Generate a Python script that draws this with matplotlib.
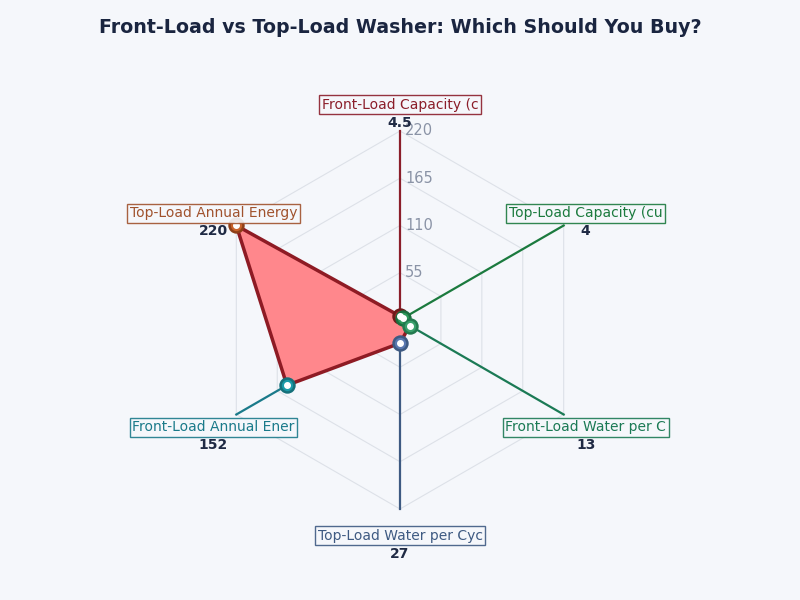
import numpy as np
import matplotlib
matplotlib.use("Agg")
import matplotlib.pyplot as plt

# data
categories = ["Front-Load Capacity (c", "Top-Load Capacity (cu", "Front-Load Water per C",
              "Top-Load Water per Cyc", "Front-Load Annual Ener", "Top-Load Annual Energy"]
values = [4.5, 4, 13, 27, 152, 220]
value_labels = ["4.5", "4", "13", "27", "152", "220"]
ring_levels = [55, 110, 165, 220]
r_max = 220

axis_colors = ["#8b1e2a", "#1b7a3e", "#1b7a55", "#3e5a82", "#1a7a8a", "#a0522d"]
marker_colors = ["#9b2a2a", "#2e9a5c", "#3aa06c", "#5a78b0", "#1a9aa8", "#c8622a"]
edge_colors = ["#6e1a1a", "#1d6e40", "#237a4f", "#3e5a82", "#15707a", "#8e3f18"]

bg = "#f5f7fb"
fig = plt.figure(figsize=(8, 6), dpi=100, facecolor=bg)
ax = fig.add_axes([0.26375, 0.15167, 0.4725, 0.63], projection="polar")
ax.set_facecolor(bg)
ax.set_theta_offset(np.pi / 2)
ax.set_theta_direction(-1)
ax.set_ylim(0, r_max)
ax.grid(False)
ax.spines["polar"].set_visible(False)
ax.set_xticks([])
ax.set_yticks([])

n = len(categories)
theta = np.arange(n) * 2 * np.pi / n
theta_closed = np.append(theta, theta[0])

# hexagonal grid
for lv in ring_levels:
    ax.plot(theta_closed, [lv] * (n + 1), color="#dde1e8", lw=0.8, zorder=1, clip_on=False)
    ax.annotate(str(lv), (0, lv), xytext=(5, 0), textcoords="offset pixels",
                ha="left", va="center", color="#8a93a6", fontsize=10.5, zorder=2)

# colored axis spokes
for t, c in zip(theta, axis_colors):
    ax.plot([t, t], [0, r_max], color=c, lw=1.6, zorder=2, clip_on=False)

vals_closed = values + [values[0]]
ax.fill(theta_closed, vals_closed, color="#ff878c", zorder=3, clip_on=False)
ax.plot(theta_closed, vals_closed, color="#8e1b24", lw=2.5, zorder=4, clip_on=False)

for t, v, mc, ec in zip(theta, values, marker_colors, edge_colors):
    ax.plot(t, v, "o", ms=10, mfc=mc, mec=ec, mew=1.8, zorder=5, clip_on=False)
    ax.plot(t, v, "o", ms=4, mfc="white", mec="white", zorder=6, clip_on=False)

# label offsets in pixels from the outer end of each spoke
label_off = [(0, 26), (22, 12), (22, -13), (0, -27), (-23, -13), (-23, 12)]
for t, cat, vl, c, (dx, dy) in zip(theta, categories, value_labels, axis_colors, label_off):
    ax.annotate(cat, (t, r_max), xytext=(dx, dy), textcoords="offset pixels",
                ha="center", va="center", fontsize=10, color=c, zorder=7,
                bbox=dict(boxstyle="square,pad=0.18", fc=bg, ec=c, lw=1, alpha=0.9))
    ax.annotate(vl, (t, r_max), xytext=(dx, dy - 18), textcoords="offset pixels",
                ha="center", va="center", fontsize=10, fontweight="bold",
                color="#1f2a44", zorder=7)

fig.suptitle("Front-Load vs Top-Load Washer: Which Should You Buy?",
             fontsize=13.7, fontweight="bold", color="#1a2540", y=0.97)

fig.savefig("out.png", dpi=100, facecolor=bg)
